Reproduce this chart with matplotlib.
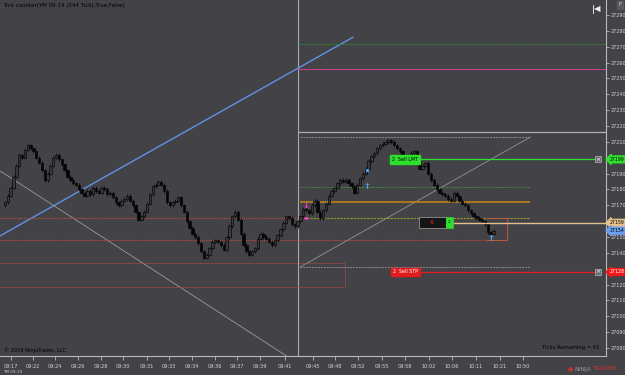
import numpy as np
import matplotlib.pyplot as plt
from matplotlib.patches import Rectangle
import matplotlib.transforms as mtransforms

# YM 09-19 tick bars (close of each bar)
closes = [27172, 27176, 27181, 27188, 27195, 27202, 27200, 27205, 27208, 27206,
          27204, 27200, 27197, 27192, 27186, 27190, 27195, 27200, 27202, 27199,
          27196, 27192, 27188, 27186, 27184, 27183, 27180, 27178, 27176, 27179,
          27177, 27181, 27179, 27178, 27181, 27180, 27177, 27178, 27175, 27172,
          27170, 27173, 27174, 27176, 27173, 27170, 27166, 27161, 27163, 27166,
          27171, 27177, 27182, 27183, 27185, 27183, 27179, 27172, 27170, 27172,
          27173, 27175, 27170, 27166, 27160, 27156, 27152, 27150, 27146, 27141,
          27137, 27139, 27143, 27147, 27148, 27147, 27145, 27142, 27150, 27157,
          27163, 27166, 27161, 27152, 27145, 27141, 27139, 27141, 27143, 27149,
          27152, 27150, 27149, 27147, 27145, 27148, 27151, 27155, 27159, 27163,
          27162, 27158, 27157, 27160, 27163, 27168, 27167, 27165, 27170, 27173,
          27166, 27162, 27167, 27171, 27176, 27179, 27181, 27184, 27186, 27185,
          27186, 27184, 27182, 27178, 27183, 27187, 27190, 27193, 27198, 27201,
          27203, 27206, 27208, 27209, 27210, 27211, 27210, 27208, 27206, 27204,
          27200, 27198, 27201, 27203, 27204, 27198, 27193, 27195, 27197, 27190,
          27186, 27183, 27180, 27178, 27177, 27176, 27174, 27173, 27178, 27176,
          27173, 27171, 27170, 27167, 27165, 27163, 27162, 27161, 27160, 27158,
          27153, 27152, 27154]
first_open = 27170

time_pos = [2.1, 9.9, 17.6, 25.7, 33.8, 41.5, 50.0, 57.7, 65.8, 73.9, 81.7, 89.8,
            98.6, 108.5, 116.2, 124.3, 132.7, 140.8, 149.3, 157.4, 165.8, 174.3, 182.4]
time_labels = ["09:17", "09:22", "09:24", "09:26", "09:28", "09:30", "09:31", "09:33",
               "09:34", "09:36", "09:37", "09:39", "09:41", "09:45", "09:48", "09:52",
               "09:55", "09:58", "10:02", "10:06", "10:11", "10:21", "10:50"]

price_ticks = list(range(27080, 27300, 10))
hidden_ticks = [27130, 27160, 27200]

# drawing objects (bar index, price)
blue_ray = ([-2, 122.5], [27150.5, 27276])
grey_ray = ([-2, 100], [27192, 27074])
session_x = 103.2
left_levels = [27162.0, 27148.1]            # red dotted lines
red_box = (-2, 119.7, 27118.5, 27133.6)     # x0, x1, y0, y1
zone_x = (103.9, 185.0)
zone_top, zone_bot = 27213.1, 27131.1
green_lvl, orange_lvl, olive_lvl = 27181.5, 27172.1, 27162.0
grey_lvl = 27216.2
top_green, top_magenta = 27271.7, 27256.0
small_box = (169.7, 176.8, 27148, 27162)

sell_lmt, entry, last_px, sell_stp = 27199, 27159, 27154, 27128
qty, pnl = 2, -5

BG = '#434247'
AX = '#b9b9bd'

fig = plt.figure(figsize=(6.25, 3.75), dpi=100, facecolor=BG)
ax = fig.add_axes([0, 19 / 375, 606 / 625, 356 / 375], facecolor=BG)
ax.set_xlim(-1.76, 211.6)
ax.set_ylim(27075.0, 27299.5)

for s in ['top', 'left']:
    ax.spines[s].set_visible(False)
for s in ['right', 'bottom']:
    ax.spines[s].set_color(AX)
    ax.spines[s].set_linewidth(0.8)

# candles
opens = [first_open] + closes[:-1]
for i, (o, c) in enumerate(zip(opens, closes)):
    hi, lo = max(o, c) + 1.0, min(o, c) - 1.0
    ax.vlines(i, lo, hi, color='#0c0c0c', lw=0.6, zorder=3)
    fc = '#3a393e' if c >= o else '#050505'
    ax.add_patch(Rectangle((i - 0.42, min(o, c)), 0.84, max(abs(c - o), 0.5),
                           fc=fc, ec='#080808', lw=0.5, zorder=4))

# drawing tools
ax.plot(*blue_ray, color='#5f93e6', lw=1.0, zorder=2)
ax.plot(*grey_ray, color='#9c9ca0', lw=0.6, zorder=2)
ax.axvline(session_x, color='#a8a8ac', lw=0.8, zorder=1)
ax.hlines(left_levels[0], -2, session_x, color='#c24a3e', lw=0.8, ls=(0, (1, 1)), zorder=2)
ax.hlines(left_levels[1], -2, small_box[1], color='#c24a3e', lw=0.8, ls=(0, (1, 1)), zorder=2)
x0, x1, y0, y1 = red_box
ax.plot([x0, x1, x1, x0], [y1, y1, y0, y0], color='#b84a42', lw=0.7, ls=(0, (1, 1)), zorder=2)

ax.hlines([zone_top, zone_bot], *zone_x, color='#8a8a8e', lw=0.7, ls=(0, (2, 1)), zorder=2)
ax.plot([zone_x[0], zone_x[1]], [zone_bot, zone_top], color='#8a8a8e', lw=0.7, zorder=2)
ax.hlines(green_lvl, *zone_x, color='#3d8a3d', lw=0.7, ls=(0, (2, 1)), zorder=2)
ax.hlines(orange_lvl, *zone_x, color='#c8880e', lw=1.1, zorder=2)
ax.hlines(olive_lvl, zone_x[0], zone_x[1], color='#9a9a2a', lw=0.8, ls=(0, (2, 1)), zorder=2)
ax.hlines(grey_lvl, session_x, 211.6, color='#b0b0b4', lw=0.9, zorder=2)
ax.hlines(top_green, session_x, 211.6, color='#2f8a2f', lw=0.7, ls=(0, (2, 1)), zorder=2)
ax.hlines(top_magenta, session_x, 211.6, color='#c0408a', lw=0.8, zorder=2)
bx0, bx1, by0, by1 = small_box
ax.plot([bx0, bx1, bx1, bx0], [by1, by1, by0, by0], color='#c2563a', lw=0.7, zorder=2)

# order lines
ax.hlines(sell_lmt, 145.4, 208.8, color='#2ee02e', lw=0.9, zorder=5)
ax.hlines(sell_stp, 145.4, 208.8, color='#e01c1c', lw=0.9, zorder=5)
ax.hlines(entry, 157.7, 211.6, color='#e6c08c', lw=1.0, zorder=5)
ax.text(145.4, sell_lmt, f"{qty}  Sell LMT", fontsize=3.4, color='black', ha='right', va='center',
        zorder=6, bbox=dict(boxstyle='square,pad=0.35', fc='#2ee02e', ec='#2ee02e'))
ax.text(145.4, sell_stp, f"{qty}  Sell STP", fontsize=3.4, color='white', ha='right', va='center',
        zorder=6, bbox=dict(boxstyle='square,pad=0.35', fc='#e01c1c', ec='#e01c1c'))
ax.add_patch(Rectangle((145.6, 27156.0), 9.5, 6.5, fc='#151515', ec='#909090', lw=0.6, zorder=5))
ax.add_patch(Rectangle((155.1, 27156.0), 2.6, 6.5, fc='#2ee02e', ec='#2ee02e', lw=0.4, zorder=6))
ax.text(150.3, entry + 0.3, f"{pnl}", fontsize=3.4, color='#ff3030', ha='center', va='center', zorder=7)
ax.text(156.4, entry + 0.3, str(qty), fontsize=3.2, color='black', ha='center', va='center', zorder=7)
for lvl in [sell_lmt, sell_stp]:
    ax.text(208.8, lvl, "×", fontsize=4.5, color='white', ha='center', va='center', zorder=7,
            bbox=dict(boxstyle='square,pad=0.1', fc='#6a6a6e', ec='#cfcfcf', lw=0.4))

# execution markers
ax.text(106, 27170.2, "↓", fontsize=6, color='#ff30d0', ha='center', va='center', zorder=7, fontweight='bold')
ax.plot(106, 27162, 's', ms=1.2, color='#ff30d0', zorder=7)
ax.text(127.5, 27182.2, "↑", fontsize=6, color='#4aa8ff', ha='center', va='center', zorder=7, fontweight='bold')
ax.plot(127.5, 27192.3, 's', ms=1.2, color='#4aa8ff', zorder=7)
ax.text(171.1, 27149.4, "↑", fontsize=6, color='#4aa8ff', ha='center', va='center', zorder=7, fontweight='bold')

# axes ticks
ax.yaxis.tick_right()
ax.set_yticks(price_ticks)
ax.set_yticklabels(["" if p in hidden_ticks else str(p) for p in price_ticks])
ax.tick_params(axis='y', colors=AX, labelsize=3.5, length=2, width=0.6, pad=1)
ax.set_xticks(time_pos)
ax.set_xticklabels(time_labels)
ax.tick_params(axis='x', colors=AX, labelsize=3.6, length=3, width=0.6, pad=2.5)
for t in ax.get_xticklabels() + ax.get_yticklabels():
    t.set_color('#d4d4d8')

# price tags on the axis
trans = mtransforms.blended_transform_factory(ax.transAxes, ax.transData)
tags = [(sell_lmt, '#2ee02e', 'black'), (entry, '#e6c08c', 'black'),
        (last_px, '#6a9ff0', 'black'), (sell_stp, '#f01818', 'white')]
for p, fc, tc in tags:
    ax.text(1.006, p, str(p), transform=trans, fontsize=3.3, color=tc, ha='left', va='center',
            clip_on=False, zorder=8, bbox=dict(boxstyle='larrow,pad=0.2', fc=fc, ec=fc))

# captions
fig.text(3 / 625, 1 - 6 / 375, "Tick counter(YM 09-19 (544 Tick),True,False)", fontsize=4,
         color='black', va='center')
fig.text(4 / 625, 1 - 350 / 375, "© 2019 NinjaTrader, LLC", fontsize=3.6, color='black', va='center')
fig.text(600 / 625, 1 - 347 / 375, "Ticks Remaining = 61", fontsize=3.8, color='black',
         va='center', ha='right')
fig.text(3 / 625, 1 - 372 / 375, "YM 09-19", fontsize=3, color='#c8c8cc', va='center')
fig.text(574 / 625, 1 - 369 / 375, "NINJA", fontsize=4.4, color='#9a9a9e', va='center')
fig.text(593 / 625, 1 - 369 / 375, "TRADER", fontsize=4.4, color='#d83030', va='center')
fig.text(568 / 625, 1 - 369 / 375, "●", fontsize=4.5, color='#c03030', va='center')
fig.text(620 / 625, 1 - 5 / 375, "F", fontsize=4, color='#d0d0d0', ha='center', va='center',
         bbox=dict(boxstyle='square,pad=0.3', fc='#5a595e', ec='#5a595e'))
fig.text(597 / 625, 1 - 9 / 375, "◀", fontsize=6, color='#f0f0f0', ha='center', va='center')
fig.text(593.5 / 625, 1 - 9 / 375, "|", fontsize=6, color='#f0f0f0', ha='center', va='center',
         fontweight='bold')

fig.savefig('out.png', dpi=100, facecolor=BG)
